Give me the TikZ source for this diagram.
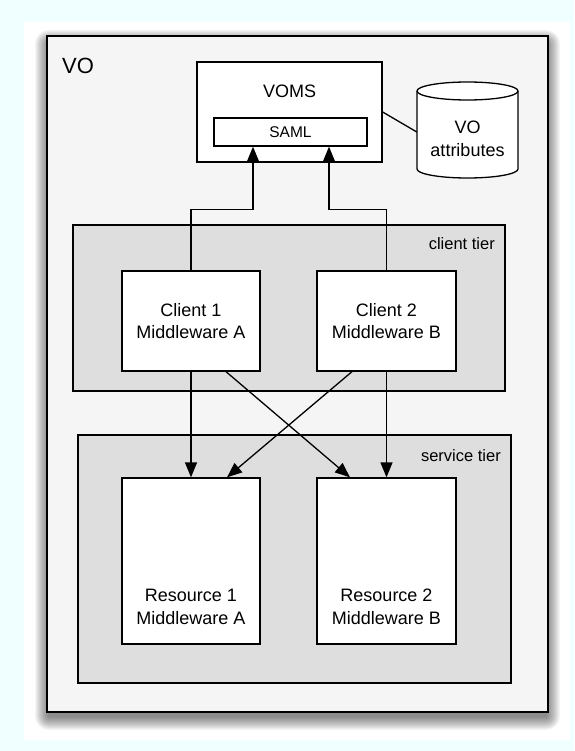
\documentclass[tikz,border=0pt]{standalone}
\usepackage{fontspec}
\setmainfont{Liberation Sans}
\usetikzlibrary{arrows.meta}
\definecolor{bgcyan}{RGB}{240,255,255}
\definecolor{vofill}{RGB}{245,245,245}
\definecolor{tierfill}{RGB}{222,222,222}
\newcommand{\mainfnt}{\fontsize{18}{22.7}\selectfont}
\newcommand{\samlfnt}{\fontsize{15.5}{18}\selectfont}
\newcommand{\tierfnt}{\fontsize{16.5}{20}\selectfont}
\newcommand{\vofnt}{\fontsize{22}{26}\selectfont}
\begin{document}
\begin{tikzpicture}[x=1pt,y=1pt,
  box/.style={draw=black,line width=1.3pt,fill=white,inner sep=0pt},
  tierbox/.style={draw=black,line width=1.3pt,fill=tierfill,inner sep=0pt},
  txt/.style={inner sep=0pt,align=center,font=\mainfnt},
  tierlabel/.style={inner sep=0pt,anchor=east,font=\tierfnt},
  arr/.style={line width=1.3pt,-{Triangle[length=15pt,width=12pt]}},
  conn/.style={line width=1.3pt}]
% canvas
\useasboundingbox (0,0) rectangle (574,-751);
\fill[bgcyan] (0,0) rectangle (574,-751);
\fill[white] (24,-22) rectangle (570,-740);
% shadow of VO box
\foreach \e in {1,...,14}{
  \fill[black,opacity=0.04,rounded corners=\e pt] (49-\e,-44+\e) rectangle (546+\e,-716-\e);
}
% VO box
\node[draw=black,line width=1.6pt,fill=vofill,inner sep=0pt,minimum width=501pt,minimum height=676pt] (vo) at (297.5,-374) {};
\node[inner sep=0pt,anchor=west,font=\vofnt] (volabel) at (62,-66) {VO};
% VOMS
\node[box,minimum width=185pt,minimum height=100pt] (voms) at (289.5,-112) {};
\node[txt] (vomslabel) at (289.5,-91) {VOMS};
\node[box,minimum width=153pt,minimum height=28pt,font=\samlfnt] (saml) at (290.5,-132) {SAML};
% VO attributes cylinder
\node[inner sep=0pt,minimum width=101pt,minimum height=96pt] (attr) at (467.5,-130) {};
\filldraw[fill=white,draw=black,line width=1.3pt]
  (417,-91) -- (417,-169) arc[start angle=180,end angle=360,x radius=50.5,y radius=9]
  -- (518,-91) arc[start angle=0,end angle=180,x radius=50.5,y radius=9] -- cycle;
\draw[line width=1.3pt] (417,-91) arc[start angle=180,end angle=360,x radius=50.5,y radius=9];
\node[txt] (attrlabel) at (467.5,-139) {VO\\attributes};
% client tier
\node[tierbox,minimum width=432pt,minimum height=166pt] (ctier) at (289,-308) {};
\node[tierlabel] (ctierlabel) at (495,-244) {client tier};
\node[box,minimum width=138pt,minimum height=100pt,align=center,font=\mainfnt] (c1) at (191,-321) {Client 1\\Middleware A};
\node[box,minimum width=139pt,minimum height=100pt,align=center,font=\mainfnt] (c2) at (386.5,-321) {Client 2\\Middleware B};
% service tier
\node[tierbox,minimum width=433pt,minimum height=248pt] (stier) at (294.5,-559) {};
\node[tierlabel] (stierlabel) at (501,-456) {service tier};
\node[box,minimum width=138pt,minimum height=166pt] (r1) at (191,-561) {};
\node[txt] (r1label) at (191,-607) {Resource 1\\Middleware A};
\node[box,minimum width=139pt,minimum height=166pt] (r2) at (386.5,-561) {};
\node[txt] (r2label) at (386.5,-607) {Resource 2\\Middleware B};
% connectors
\draw[conn] (voms.east) -- ([yshift=-2pt]attr.west);
\draw[arr] (c1.north) -- ++(0,61) -| ([xshift=-37.5pt]saml.south);
\draw[arr] (c2.north) -- ++(0,61) -| ([xshift=38.5pt]saml.south);
\draw[arr] (c1.south) -- (r1.north);
\draw[arr] (c2.south) -- (r2.north);
\draw[arr] ([xshift=35pt]c1.south) -- ([xshift=-36.5pt]r2.north);
\draw[arr] ([xshift=-34.5pt]c2.south) -- ([xshift=36pt]r1.north);
\end{tikzpicture}
\end{document}
